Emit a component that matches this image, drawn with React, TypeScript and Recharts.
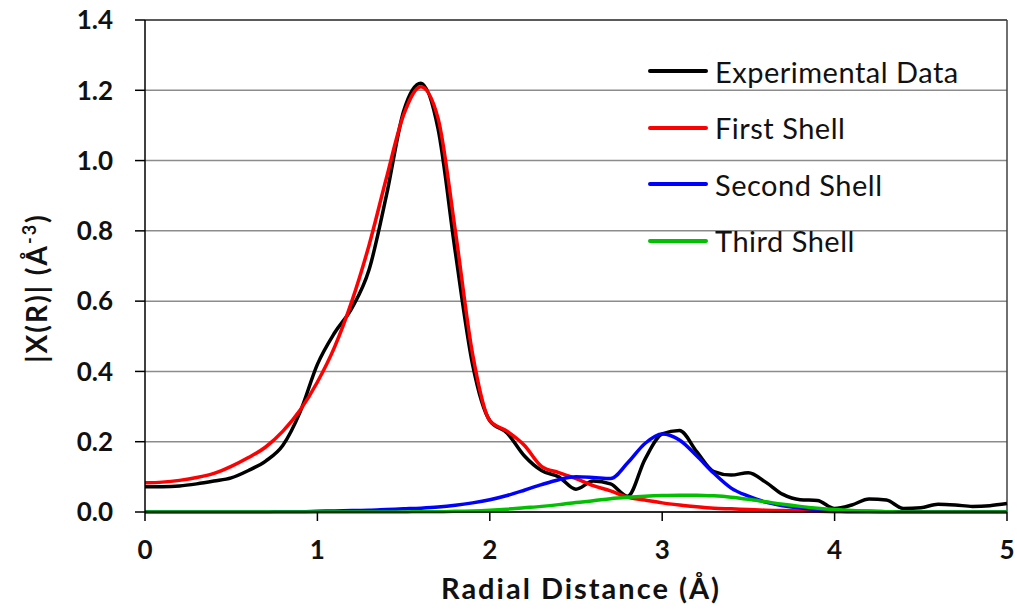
import React from "react";
import {
  CartesianGrid,
  Legend,
  Line,
  LineChart,
  ReferenceLine,
  XAxis,
  YAxis,
} from "recharts";

// radial distance, 0.1 Å steps
const radius = [
  0.0, 0.1, 0.2, 0.3, 0.4, 0.5, 0.6, 0.7, 0.8, 0.9, 1.0, 1.1, 1.2, 1.3, 1.4,
  1.5, 1.6, 1.7, 1.8, 1.9, 2.0, 2.1, 2.2, 2.3, 2.4, 2.5, 2.6, 2.7, 2.8, 2.9,
  3.0, 3.1, 3.2, 3.3, 3.4, 3.5, 3.6, 3.7, 3.8, 3.9, 4.0, 4.1, 4.2, 4.3, 4.4,
  4.5, 4.6, 4.7, 4.8, 4.9, 5.0,
];

const experimental = [
  0.072, 0.072, 0.074, 0.08, 0.088, 0.097, 0.118, 0.145, 0.19, 0.285, 0.42,
  0.51, 0.58, 0.69, 0.9, 1.14, 1.22, 1.09, 0.74, 0.42, 0.26, 0.225, 0.16,
  0.118, 0.1, 0.065, 0.088, 0.08, 0.045, 0.15, 0.222, 0.232, 0.172, 0.115,
  0.105, 0.112, 0.085, 0.05, 0.035, 0.033, 0.01, 0.02, 0.037, 0.034, 0.01,
  0.012, 0.022, 0.02, 0.016, 0.018, 0.024,
];

const firstShell = [
  0.083, 0.085, 0.09, 0.098, 0.11, 0.13, 0.155, 0.185, 0.23, 0.29, 0.37, 0.47,
  0.6, 0.76, 0.95, 1.13, 1.21, 1.12, 0.8, 0.45, 0.26, 0.23, 0.19, 0.13,
  0.112, 0.095, 0.075, 0.06, 0.042, 0.034, 0.026, 0.02, 0.015, 0.011, 0.009,
  0.007, 0.005, 0.004, 0.003, 0.002, 0.001, 0, 0, 0, 0, 0, 0, 0, 0, 0, 0,
];

const secondShell = [
  0, 0, 0, 0, 0, 0, 0, 0, 0.001, 0.001, 0.002, 0.003, 0.004, 0.005, 0.007,
  0.009, 0.011, 0.014, 0.019, 0.026, 0.035, 0.047, 0.062, 0.078, 0.092, 0.1,
  0.098, 0.095, 0.14, 0.195, 0.222, 0.205, 0.16, 0.11, 0.068, 0.045, 0.028,
  0.018, 0.011, 0.007, 0.005, 0.003, 0.002, 0.001, 0, 0, 0, 0, 0, 0, 0,
];

const thirdShell = [
  0, 0, 0, 0, 0, 0, 0, 0, 0, 0, 0, 0, 0, 0, 0, 0, 0.001, 0.001, 0.002, 0.003,
  0.005, 0.008, 0.012, 0.016, 0.021, 0.027, 0.032, 0.038, 0.042, 0.045, 0.047,
  0.048, 0.048, 0.046, 0.042, 0.036, 0.029, 0.022, 0.016, 0.011, 0.007, 0.004,
  0.002, 0.001, 0, 0, 0, 0, 0, 0, 0,
];

const xTicks = [0, 1, 2, 3, 4, 5];
const yTicks = [0, 0.2, 0.4, 0.6, 0.8, 1.0, 1.2, 1.4];

const series = [
  { key: "experimental", name: "Experimental Data", color: "#000000" },
  { key: "first", name: "First Shell", color: "#ff0000" },
  { key: "second", name: "Second Shell", color: "#0000ff" },
  { key: "third", name: "Third Shell", color: "#00c000" },
];

const data = radius.map((r, i) => ({
  r,
  experimental: experimental[i],
  first: firstShell[i],
  second: secondShell[i],
  third: thirdShell[i],
}));

const FONT = "Lato, Calibri, sans-serif";

const tickStyle = {
  fontFamily: FONT,
  fontWeight: 700,
  fontSize: 26,
  fill: "#111",
};

function LegendBox() {
  return (
    <div style={{ fontFamily: FONT, fontSize: 29, letterSpacing: 0.5 }}>
      {series.map((s) => (
        <div
          key={s.key}
          style={{ display: "flex", alignItems: "center", height: 56.5 }}
        >
          <div
            style={{
              width: 60,
              height: 4,
              background: s.color,
              borderRadius: 2,
              marginRight: 7,
              flexShrink: 0,
            }}
          />
          <span style={{ color: "#111", lineHeight: 1, whiteSpace: "nowrap" }}>
            {s.name}
          </span>
        </div>
      ))}
    </div>
  );
}

export default function App() {
  return (
    <div style={{ position: "absolute", left: 0, top: 0 }}>
      <LineChart
        width={1017}
        height={615}
        data={data}
        margin={{ top: 20, right: 10, left: 55, bottom: 43 }}
      >
        <CartesianGrid vertical={false} stroke="#8c8c8c" strokeWidth={1.5} />
        <XAxis
          dataKey="r"
          type="number"
          domain={[0, 5]}
          ticks={xTicks}
          height={60}
          stroke="#000"
          strokeWidth={1.5}
          tickSize={9}
          tickMargin={20}
          tick={tickStyle}
          label={{
            content: (props: any) => {
              const vb = props.viewBox;
              return (
                <text
                  x={vb.x + vb.width / 2 + 5}
                  y={599}
                  textAnchor="middle"
                  fontFamily={FONT}
                  fontWeight={700}
                  fontSize={29}
                  letterSpacing={2}
                  fill="#111"
                >
                  Radial Distance (Å)
                </text>
              );
            },
          }}
        />
        <YAxis
          type="number"
          domain={[0, 1.4]}
          ticks={yTicks}
          width={90}
          stroke="#000"
          strokeWidth={1.5}
          tickSize={10}
          tickMargin={22}
          tick={tickStyle}
          tickFormatter={(v: number) => v.toFixed(1)}
          label={{
            content: () => (
              <text
                transform="translate(47, 288) rotate(-90)"
                textAnchor="middle"
                fontFamily={FONT}
                fontWeight={700}
                fontSize={28}
                letterSpacing={2}
                fill="#111"
              >
                |X(R)| (Å
                <tspan fontSize={18} dy={-11}>
                  -3
                </tspan>
                <tspan dy={11}>)</tspan>
              </text>
            ),
          }}
        />
        <ReferenceLine y={1.4} stroke="#404040" strokeWidth={1.5} />
        <ReferenceLine x={5} stroke="#404040" strokeWidth={1.5} />
        <Legend
          layout="vertical"
          align="center"
          verticalAlign="middle"
          content={() => <LegendBox />}
          wrapperStyle={{ position: "absolute", left: 648, top: 43, width: 360 }}
        />
        {series.map((s) => (
          <Line
            key={s.key}
            type="monotone"
            dataKey={s.key}
            name={s.name}
            stroke={s.color}
            strokeWidth={3.5}
            dot={false}
            activeDot={false}
            isAnimationActive={false}
          />
        ))}
      </LineChart>
    </div>
  );
}
